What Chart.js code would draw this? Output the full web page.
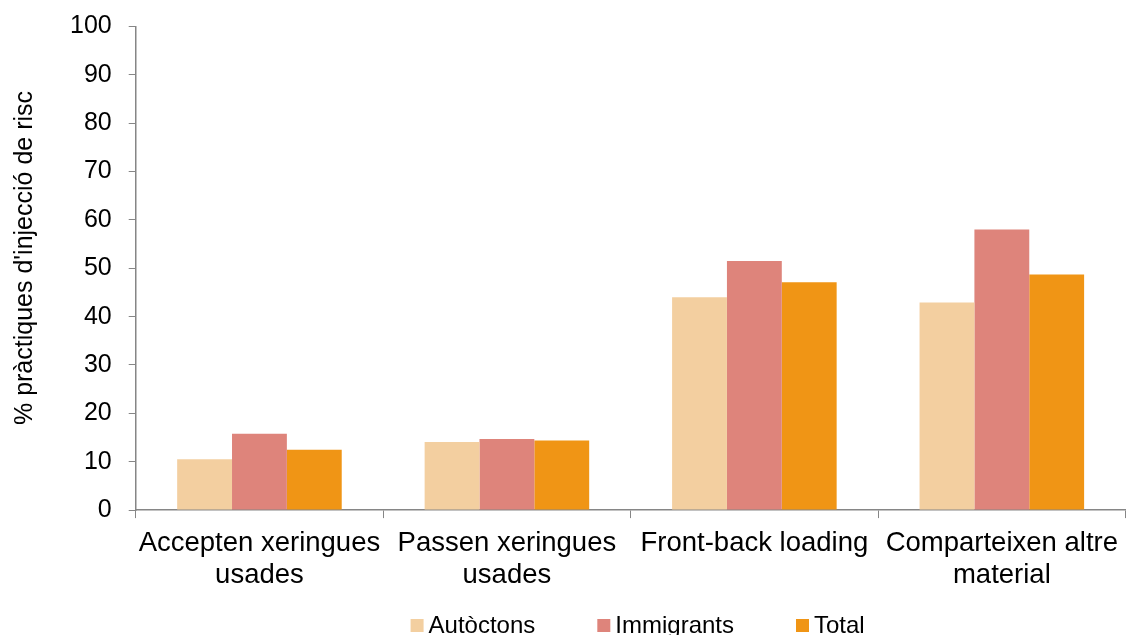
<!DOCTYPE html>
<html>
<head>
<meta charset="utf-8">
<script src="https://cdn.jsdelivr.net/npm/chart.js@4"></script>
<style>
  html, body { margin: 0; padding: 0; background: #fff; }
  #wrap { width: 1127px; height: 635px; position: relative; }
</style>
</head>
<body>
<div id="wrap"><canvas id="riskChart"></canvas></div>
<script>
// --- data ---
const categories = [
    ['Accepten xeringues', 'usades'],
    ['Passen xeringues', 'usades'],
    'Front-back loading',
    ['Comparteixen altre', 'material']
];
const autoctons = [10.5, 14.1, 44.0, 42.9];
const immigrants = [15.8, 14.7, 51.5, 58.0];
const total = [12.5, 14.4, 47.1, 48.7];
const seriesNames = ['Autòctons', 'Immigrants', 'Total'];
const seriesColors = ['#F3CFA0', '#DE847B', '#F09515'];
const yTicks = [0, 10, 20, 30, 40, 50, 60, 70, 80, 90, 100];
const yTitle = "% pràctiques d'injecció de risc";

const FONT = "'Liberation Sans', Arial, sans-serif";
const AXIS_GREY = '#868686';

// legend + y title drawn by hand (wide legend gaps, title sits a bit above centre)
const extras = {
    id: 'extras',
    afterDraw(chart) {
        const ctx = chart.ctx;
        const area = chart.chartArea;
        ctx.save();

        // y axis title
        ctx.save();
        ctx.translate(25, 258);
        ctx.rotate(-Math.PI / 2);
        ctx.font = '25px ' + FONT;
        ctx.fillStyle = '#000';
        ctx.textAlign = 'center';
        ctx.textBaseline = 'middle';
        ctx.fillText(yTitle, 0, 0);
        ctx.restore();

        // legend
        const box = 13, gap = 5, spacing = 62;
        ctx.font = '24px ' + FONT;
        ctx.textBaseline = 'middle';
        ctx.textAlign = 'left';
        const widths = chart.data.datasets.map(ds => box + gap + ctx.measureText(ds.label).width);
        const full = widths.reduce((a, b) => a + b, 0) + spacing * (widths.length - 1);
        let x = (area.left + area.right) / 2 + 7 - full / 2;
        const y = 626;
        chart.data.datasets.forEach((ds, i) => {
            ctx.fillStyle = ds.backgroundColor;
            ctx.fillRect(x, y - 7, box, box);
            ctx.fillStyle = '#000';
            ctx.fillText(ds.label, x + box + gap, y);
            x += widths[i] + spacing;
        });
        ctx.restore();
    }
};

const ctx = document.getElementById('riskChart').getContext('2d');
new Chart(ctx, {
    type: 'bar',
    data: {
        labels: categories,
        datasets: [
            { label: seriesNames[0], data: autoctons, backgroundColor: seriesColors[0] },
            { label: seriesNames[1], data: immigrants, backgroundColor: seriesColors[1] },
            { label: seriesNames[2], data: total, backgroundColor: seriesColors[2] }
        ]
    },
    options: {
        responsive: true,
        maintainAspectRatio: false,
        animation: false,
        devicePixelRatio: 1,
        layout: { padding: { top: 5, left: 53, right: 0, bottom: 34 } },
        datasets: {
            bar: { barPercentage: 1, categoryPercentage: 0.665, borderWidth: 0 }
        },
        plugins: {
            legend: { display: false },
            tooltip: { enabled: false }
        },
        scales: {
            x: {
                offset: true,
                grid: {
                    display: true,
                    offset: true,
                    drawOnChartArea: false,
                    drawTicks: true,
                    tickLength: 8,
                    color: AXIS_GREY
                },
                border: { display: true, color: AXIS_GREY, width: 1.5 },
                ticks: {
                    color: '#000',
                    padding: 9,
                    maxRotation: 0,
                    autoSkip: false,
                    font: { family: FONT, size: 27.5, lineHeight: 1.18 }
                }
            },
            y: {
                min: 0,
                max: 100,
                afterBuildTicks(scale) {
                    scale.ticks = yTicks.map(v => ({ value: v }));
                },
                grid: {
                    display: true,
                    drawOnChartArea: false,
                    drawTicks: true,
                    tickLength: 7,
                    color: AXIS_GREY
                },
                border: { display: true, color: AXIS_GREY, width: 1.5 },
                ticks: {
                    color: '#000',
                    padding: 17,
                    font: { family: FONT, size: 25, lineHeight: 0.75 }
                }
            }
        }
    },
    plugins: [extras]
});
</script>
</body>
</html>
